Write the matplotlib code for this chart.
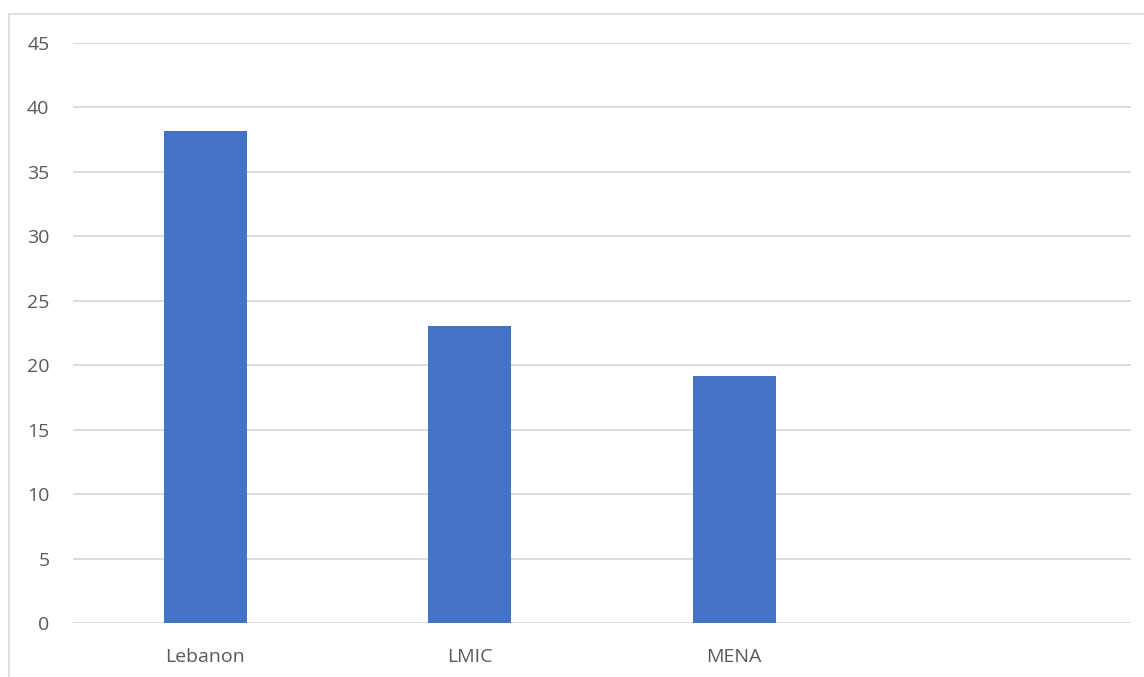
import matplotlib
matplotlib.use("Agg")
import matplotlib.pyplot as plt
from matplotlib.patches import Rectangle

categories = ["Lebanon", "LMIC", "MENA", ""]
values = [38.2, 23.05, 19.2, None]
y_ticks = [0, 5, 10, 15, 20, 25, 30, 35, 40, 45]

W, H = 1144, 677
fig = plt.figure(figsize=(W / 100, H / 100), dpi=100)
plt.rcParams["font.family"] = ["Open Sans", "DejaVu Sans"]

# chart frame (left and top edges visible)
fig.patches.append(Rectangle((9 / W, -0.1), 1.2, 1 - 14 / H + 0.1,
                             transform=fig.transFigure, fill=False,
                             edgecolor="#d9d9d9", linewidth=1.2))

ax = fig.add_axes([73 / W, 1 - 623.3 / H, (1131 - 73) / W, (623.3 - 43) / H])
xs = list(range(len(categories)))
for x, v in zip(xs, values):
    if v is not None:
        ax.bar(x, v, width=0.315, color="#4472c4", zorder=3)

ax.set_xlim(-0.5, len(categories) - 0.5)
ax.set_ylim(0, 45)
ax.set_yticks(y_ticks)
ax.set_yticklabels([str(t) for t in y_ticks])
ax.set_xticks(xs)
ax.set_xticklabels(categories)
ax.yaxis.grid(True, color="#d9d9d9", linewidth=1.3, zorder=0)
for s in ax.spines.values():
    s.set_visible(False)
ax.tick_params(axis="both", length=0, labelsize=14, labelcolor="#595959")
ax.tick_params(axis="y", pad=17)
ax.tick_params(axis="x", pad=18)

fig.savefig("out.png", dpi=100, facecolor="white")
